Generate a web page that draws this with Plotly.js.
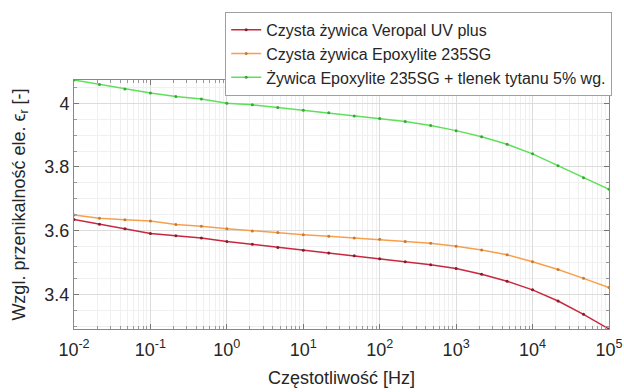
<!DOCTYPE html>
<html>
<head>
<meta charset="utf-8">
<script src="https://cdn.plot.ly/plotly-3.0.1.min.js"></script>
<style>html,body{margin:0;padding:0;background:#fff;}#chart{width:624px;height:392px;}</style>
</head>
<body>
<div id="chart"></div>
<script>
// frequency exponents (10^k), 3 points per decade
const freqExp = [-2, -1.6667, -1.3333, -1, -0.6667, -0.3333, 0, 0.3333, 0.6667, 1, 1.3333, 1.6667, 2, 2.3333, 2.6667, 3, 3.3333, 3.6667, 4, 4.3333, 4.6667, 5];
const veropal = [3.635, 3.620, 3.606, 3.591, 3.584, 3.577, 3.566, 3.557, 3.547, 3.538, 3.530, 3.521, 3.512, 3.502, 3.493, 3.481, 3.463, 3.441, 3.414, 3.379, 3.337, 3.291];
const epoxylite = [3.649, 3.639, 3.634, 3.630, 3.619, 3.614, 3.606, 3.599, 3.594, 3.587, 3.582, 3.577, 3.573, 3.566, 3.560, 3.551, 3.539, 3.524, 3.502, 3.478, 3.450, 3.421];
const epoxyliteTiO2 = [4.073, 4.059, 4.045, 4.032, 4.021, 4.013, 4.000, 3.995, 3.987, 3.978, 3.970, 3.960, 3.952, 3.943, 3.930, 3.914, 3.895, 3.871, 3.841, 3.804, 3.766, 3.730];
const seriesNames = ["Czysta żywica Veropal UV plus", "Czysta żywica Epoxylite 235SG", "Żywica Epoxylite 235SG + tlenek tytanu 5% wg."];
const xTickVals = [0.01, 0.1, 1, 10, 100, 1000, 10000, 100000];
const xTickText = ["10<sup>-2</sup>", "10<sup>-1</sup>", "10<sup>0</sup>", "10<sup>1</sup>", "10<sup>2</sup>", "10<sup>3</sup>", "10<sup>4</sup>", "10<sup>5</sup>"];
const yTickVals = [3.4, 3.6, 3.8, 4];
const yTickText = ["3.4", "3.6", "3.8", "4"];

const freq = freqExp.map(k => Math.pow(10, k));
const colors = ["#c8283f", "#f7a04c", "#5fe05a"];
const markerColors = ["#8a1a2a", "#c87a30", "#38a838"];
const data = [veropal, epoxylite, epoxyliteTiO2].map((ys, i) => ({
  x: freq, y: ys, type: "scatter", mode: "lines+markers", name: seriesNames[i],
  line: {color: colors[i], width: 1.5},
  marker: {color: markerColors[i], size: 3}
}));

const font = {family: "Liberation Sans, Arial, sans-serif", color: "#262626"};
const layout = {
  width: 624, height: 392,
  margin: {l: 74, r: 15, t: 77, b: 63},
  paper_bgcolor: "#fff", plot_bgcolor: "#fff",
  font: font,
  showlegend: true,
  legend: {
    x: 1.006, xanchor: "right", y: 1.274, yanchor: "top",
    bgcolor: "#fff", bordercolor: "#a0a0a0", borderwidth: 1,
    font: {family: font.family, size: 16, color: "#262626"},
    itemwidth: 30, tracegroupgap: 0
  },
  xaxis: {
    type: "log", range: [-2, 5],
    tickvals: xTickVals, ticktext: xTickText,
    tickfont: {size: 18, color: "#262626"},
    ticklabelstandoff: 4,
    ticks: "inside", ticklen: 5, tickcolor: "#777",
    showline: true, linecolor: "#888", linewidth: 1, mirror: "ticks",
    showgrid: true, gridcolor: "#dcdcdc", gridwidth: 1,
    minor: {showgrid: true, gridcolor: "#f0f0f0", ticks: "inside", ticklen: 3, tickcolor: "#999", dtick: "D1"},
    zeroline: false,
    title: {text: "Częstotliwość [Hz]", font: {size: 18, color: "#262626"}, standoff: 12}
  },
  yaxis: {
    range: [3.291, 4.073],
    tickvals: yTickVals, ticktext: yTickText,
    tickfont: {size: 18, color: "#262626"},
    ticks: "inside", ticklen: 5, tickcolor: "#777",
    showline: true, linecolor: "#888", linewidth: 1, mirror: "ticks",
    showgrid: true, gridcolor: "#dcdcdc", gridwidth: 1,
    minor: {showgrid: true, gridcolor: "#f0f0f0", ticks: "inside", ticklen: 3, tickcolor: "#999", dtick: 0.05, tick0: 3.4},
    zeroline: false,
    title: {text: "Wzgl. przenikalność ele. ϵ<sub>r</sub> [-]", font: {size: 18, color: "#262626"}, standoff: 14}
  }
};
Plotly.newPlot("chart", data, layout, {displayModeBar: false, staticPlot: true});
</script>
</body>
</html>
